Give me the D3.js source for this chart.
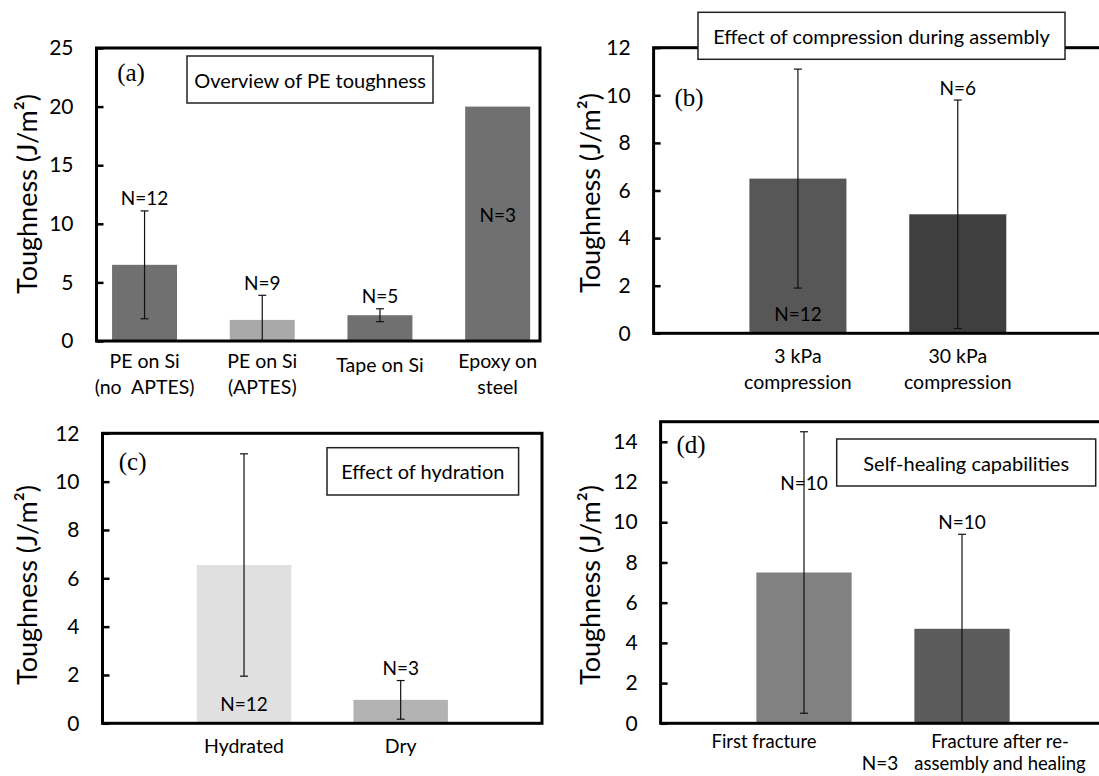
<!DOCTYPE html>
<html>
<head>
<meta charset="utf-8">
<script src="https://cdn.jsdelivr.net/npm/d3@7"></script>
<style>
  body { margin: 0; background: #fff; }
  text { font-family: Lato, "Open Sans", sans-serif; fill: #000; }
  tspan { white-space: pre; }
</style>
</head>
<body>
<div id="chart"></div>
<script>
const width = 1099, height = 776;

// (a) overview of PE toughness
const aCategories = [["PE on Si", "(no  APTES)"], ["PE on Si", "(APTES)"], ["Tape on Si"], ["Epoxy on", "steel"]];
const aValues = [6.5, 1.8, 2.2, 20];
const aErrors = [4.6, 2.1, 0.55, 0];
const aCounts = ["N=12", "N=9", "N=5", "N=3"];
const aTicks = [0, 5, 10, 15, 20, 25];

// (b) compression during assembly
const bCategories = [["3 kPa", "compression"], ["30 kPa", "compression"]];
const bValues = [6.5, 5.0];
const bErrors = [4.6, 4.8];
const bCounts = ["N=12", "N=6"];
const bTicks = [0, 2, 4, 6, 8, 10, 12];

// (c) hydration
const cCategories = [["Hydrated"], ["Dry"]];
const cValues = [6.55, 0.97];
const cErrors = [4.6, 0.8];
const cCounts = ["N=12", "N=3"];
const cTicks = [0, 2, 4, 6, 8, 10, 12];

// (d) self-healing
const dCategories = [["First fracture"], ["Fracture after re-", "assembly and healing"]];
const dValues = [7.5, 4.7];
const dErrors = [7.0, 4.7];
const dCounts = ["N=10", "N=10"];
const dTicks = [0, 2, 4, 6, 8, 10, 12, 14];
const dStray = "N=3";   // loose label sitting between the two categories

// layout for each panel (pixel boxes, colours, label placement)
const panels = [
  { tag: "(a)", title: "Overview of PE toughness",
    cats: aCategories, vals: aValues, errs: aErrors, counts: aCounts, ticks: aTicks, ymax: 25,
    frame: { x0: 96.5, x1: 540, y0: 48, y1: 341 }, band: [85.7, 556.5], pad: 0.448,
    colors: ["#707070", "#a9a9a9", "#707070", "#707070"],
    place: ["above", "above", "above", "middle"],
    tagAt: [131, 72], box: { x: 187, y: 56, w: 246, h: 47 },
    labelY: 368, lineGap: 26, labelSize: 19.5, labelDx: [0, 0, 0, 0], ytitle: [26, 194] },
  { tag: "(b)", title: "Effect of compression during assembly",
    cats: bCategories, vals: bValues, errs: bErrors, counts: bCounts, ticks: bTicks, ymax: 12,
    frame: { x0: 653.6, x1: 1115, y0: 47.7, y1: 333.3 }, band: [718, 1037.7], pad: 0.393,
    colors: ["#575757", "#3f3f3f"],
    place: ["base", "above"],
    tagAt: [689, 97], box: { x: 698, y: 12.3, w: 367, h: 47 },
    labelY: 363, lineGap: 26, labelSize: 19.5, labelDx: [0, 0], ytitle: [589, 193] },
  { tag: "(c)", title: "Effect of hydration",
    cats: cCategories, vals: cValues, errs: cErrors, counts: cCounts, ticks: cTicks, ymax: 12,
    frame: { x0: 102.5, x1: 542, y0: 433.3, y1: 723.3 }, band: [165.7, 479], pad: 0.397,
    colors: ["#e0e0e0", "#b3b3b3"],
    place: ["base", "above"],
    tagAt: [132.6, 461], box: { x: 327, y: 447.7, w: 191.6, h: 47.3 },
    labelY: 752.7, lineGap: 26, labelSize: 19.5, labelDx: [0, 0], ytitle: [26, 585] },
  { tag: "(d)", title: "Self-healing capabilities",
    cats: dCategories, vals: dValues, errs: dErrors, counts: dCounts, ticks: dTicks, ymax: 15,
    frame: { x0: 660.6, x1: 1115, y0: 421.7, y1: 723.3 }, band: [725, 1041], pad: 0.397,
    colors: ["#818181", "#5b5b5b"],
    place: [{ at: 12 }, "above"],
    tagAt: [691, 444], box: { x: 836.7, y: 439, w: 259, h: 47 },
    labelY: 747.5, lineGap: 22.5, labelSize: 18.5, labelDx: [-40, 38], ytitle: [589, 585], stray: dStray }
];

const svg = d3.select("#chart")
  .append("svg")
  .attr("width", width)
  .attr("height", height);

panels.forEach(p => {
  const g = svg.append("g");
  const idx = p.vals.map((v, i) => i);

  const x = d3.scaleBand()
    .domain(idx)
    .range(p.band)
    .paddingInner(p.pad)
    .paddingOuter(p.pad / 2);

  const y = d3.scaleLinear()
    .domain([0, p.ymax])
    .range([p.frame.y1, p.frame.y0]);

  // bars
  g.selectAll("rect.bar")
    .data(idx)
    .join("rect")
    .attr("class", "bar")
    .attr("x", i => x(i))
    .attr("width", x.bandwidth())
    .attr("y", i => y(p.vals[i]))
    .attr("height", i => y(0) - y(p.vals[i]))
    .attr("fill", i => p.colors[i]);

  // error bars (clipped at zero)
  const eb = g.selectAll("g.err")
    .data(idx.filter(i => p.errs[i] > 0))
    .join("g")
    .attr("class", "err")
    .attr("stroke", "#111")
    .attr("stroke-width", 1.2);
  const cx = i => x(i) + x.bandwidth() / 2;
  const lo = i => y(Math.max(0, p.vals[i] - p.errs[i]));
  const hi = i => y(p.vals[i] + p.errs[i]);
  eb.append("line").attr("x1", cx).attr("x2", cx).attr("y1", lo).attr("y2", hi);
  eb.append("line").attr("x1", i => cx(i) - 4).attr("x2", i => cx(i) + 4).attr("y1", hi).attr("y2", hi);
  eb.append("line").attr("x1", i => cx(i) - 4).attr("x2", i => cx(i) + 4).attr("y1", lo).attr("y2", lo);

  // N counts
  g.selectAll("text.count")
    .data(idx)
    .join("text")
    .attr("class", "count")
    .attr("x", cx)
    .attr("y", i => {
      const pl = p.place[i];
      if (pl === "above") return hi(i) - 13;
      if (pl === "base") return y(0) - 20;
      if (pl === "middle") return (y(0) + y(p.vals[i])) / 2 - 9;
      return y(pl.at);
    })
    .attr("text-anchor", "middle")
    .attr("dominant-baseline", "central")
    .style("font-size", "19px")
    .text(i => p.counts[i]);

  if (p.stray) {
    g.append("text")
      .attr("x", (cx(0) + cx(1)) / 2 - 3)
      .attr("y", p.labelY + p.lineGap)
      .attr("text-anchor", "middle")
      .style("font-size", "19px")
      .text(p.stray);
  }

  // category labels
  const lab = g.selectAll("text.cat")
    .data(idx)
    .join("text")
    .attr("class", "cat")
    .attr("text-anchor", "middle")
    .style("font-size", p.labelSize + "px")
    .attr("transform", i => {
      const shift = (p.cats[i].length === 1 && p.cats.some(c => c.length > 1) && p.tag === "(a)") ? 4 : 0;
      return `translate(${cx(i) + p.labelDx[i]},${p.labelY + shift})`;
    });
  lab.selectAll("tspan")
    .data(i => p.cats[i])
    .join("tspan")
    .attr("x", 0)
    .attr("dy", (d, j) => j === 0 ? 0 : p.lineGap)
    .text(d => d);

  // frame
  g.append("rect")
    .attr("x", p.frame.x0)
    .attr("y", p.frame.y0)
    .attr("width", p.frame.x1 - p.frame.x0)
    .attr("height", p.frame.y1 - p.frame.y0)
    .attr("fill", "none")
    .attr("stroke", "#000")
    .attr("stroke-width", 3);

  // y axis, ticks pointing inwards
  const ax = g.append("g")
    .attr("transform", `translate(${p.frame.x0},0)`)
    .call(d3.axisLeft(y).tickValues(p.ticks).tickSizeInner(-7).tickSizeOuter(0).tickPadding(23));
  ax.select(".domain").remove();
  ax.selectAll(".tick line").attr("stroke", "#000").attr("stroke-width", 2.5);
  ax.selectAll(".tick text")
    .attr("x", -23)
    .attr("text-anchor", "end")
    .style("font-size", "21px")
    .style("font-family", "Lato, sans-serif")
    .attr("fill", "#000");

  // y title
  g.append("text")
    .attr("transform", `translate(${p.ytitle[0]},${p.ytitle[1]}) rotate(-90)`)
    .attr("text-anchor", "middle")
    .attr("dominant-baseline", "central")
    .style("font-size", "27px")
    .text("Toughness (J/m²)");

  // title box
  g.append("rect")
    .attr("x", p.box.x)
    .attr("y", p.box.y)
    .attr("width", p.box.w)
    .attr("height", p.box.h)
    .attr("fill", "#fff")
    .attr("stroke", "#222")
    .attr("stroke-width", 1.5);
  g.append("text")
    .attr("x", p.box.x + p.box.w / 2)
    .attr("y", p.box.y + p.box.h / 2)
    .attr("text-anchor", "middle")
    .attr("dominant-baseline", "central")
    .style("font-size", "20px")
    .text(p.title);

  // panel tag
  g.append("text")
    .attr("x", p.tagAt[0])
    .attr("y", p.tagAt[1])
    .attr("text-anchor", "middle")
    .attr("dominant-baseline", "central")
    .style("font-family", "'Liberation Serif', 'Times New Roman', serif")
    .style("font-size", "25px")
    .text(p.tag);
});
</script>
</body>
</html>
